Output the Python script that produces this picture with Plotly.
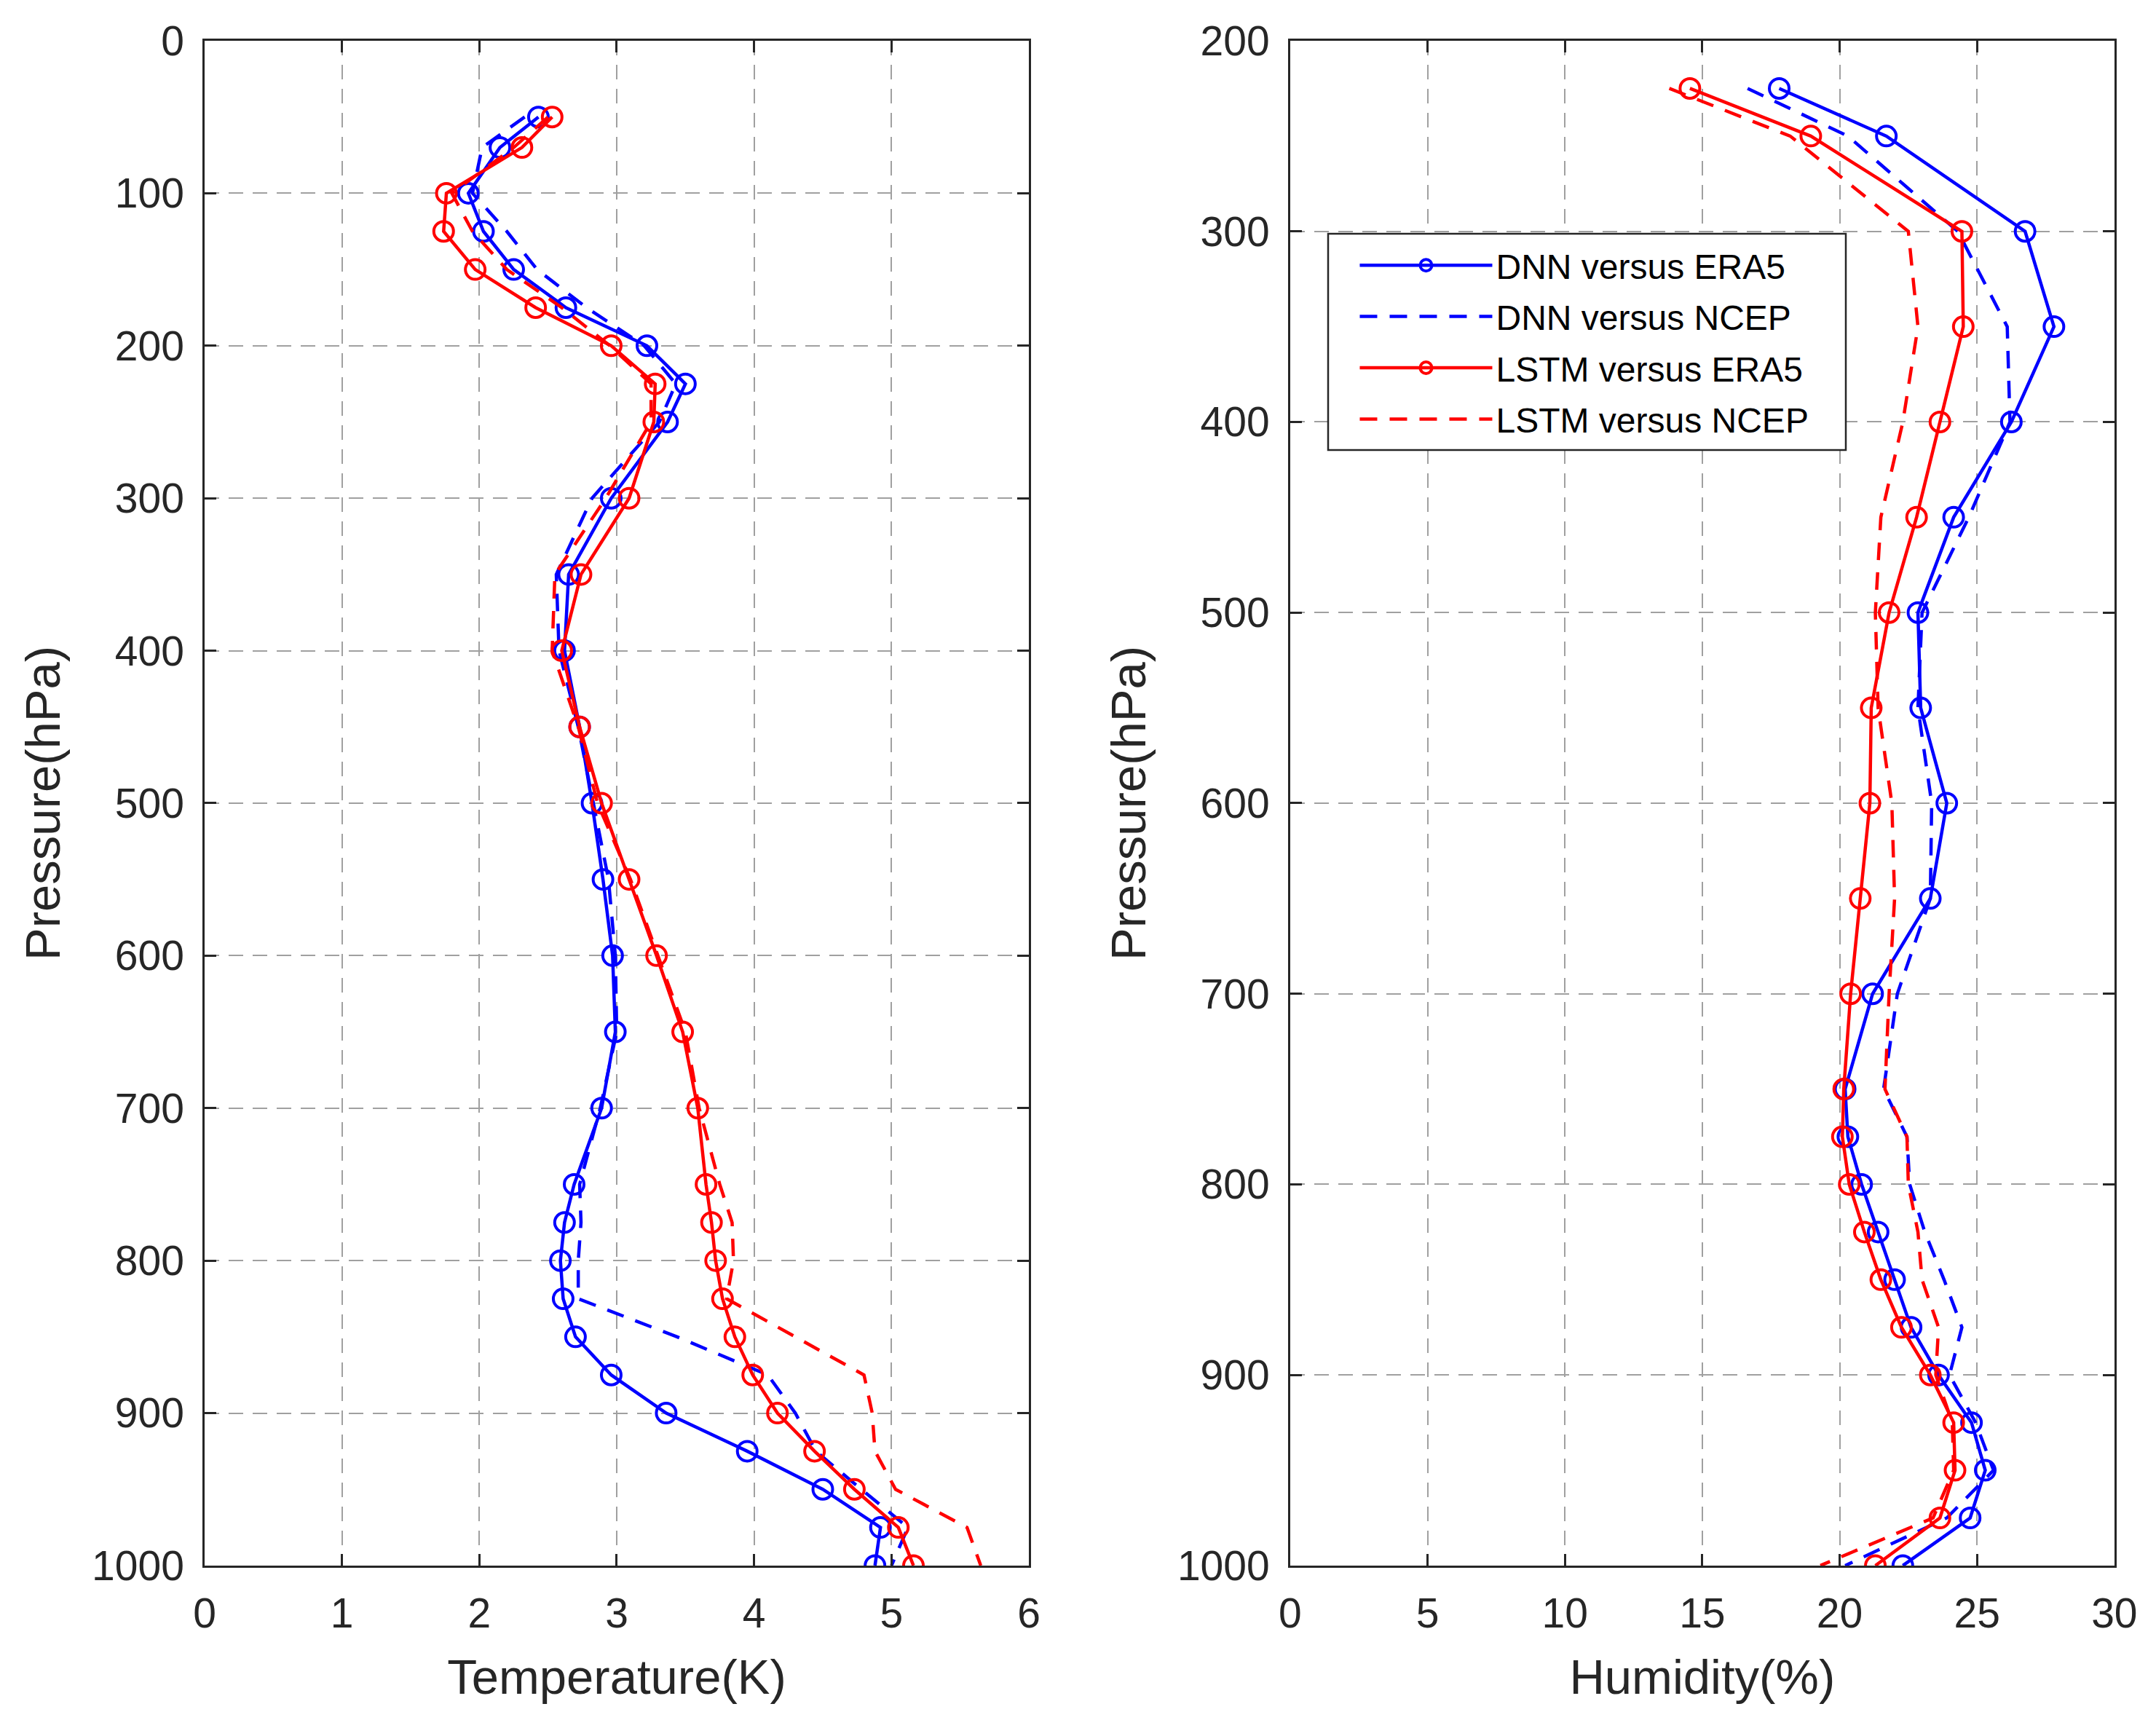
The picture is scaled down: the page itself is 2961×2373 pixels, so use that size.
import plotly.graph_objects as go

# --- temperature panel: RMSE (K) against pressure level (hPa) ---
temp_levels = [50, 70, 100, 125, 150, 175, 200, 225, 250, 300, 350, 400, 450, 500,
               550, 600, 650, 700, 750, 775, 800, 825, 850, 875, 900, 925, 950, 975, 1000]
dnn_era5_temp = [2.43, 2.15, 1.92, 2.03, 2.25, 2.63, 3.22, 3.50, 3.37, 2.96, 2.65, 2.62, 2.73, 2.82,
                 2.90, 2.97, 2.99, 2.89, 2.69, 2.62, 2.59, 2.61, 2.70, 2.96, 3.36, 3.95, 4.50, 4.92, 4.88]
dnn_ncep_temp = [2.33, 2.02, 1.95, 2.20, 2.42, 2.78, 3.20, 3.43, 3.31, 2.82, 2.56, 2.58, 2.72, 2.83,
                 2.94, 2.99, 3.00, 2.88, 2.73, 2.74, 2.72, 2.72, 3.44, 4.10, 4.30, 4.45, 4.78, 5.12, 5.00]
lstm_era5_temp = [2.53, 2.31, 1.76, 1.74, 1.97, 2.41, 2.96, 3.28, 3.27, 3.09, 2.74, 2.60, 2.73, 2.89,
                  3.09, 3.29, 3.48, 3.59, 3.65, 3.69, 3.72, 3.77, 3.86, 3.99, 4.17, 4.44, 4.73, 5.05, 5.16]
lstm_ncep_temp = [2.50, 2.25, 1.80, 1.95, 2.20, 2.60, 2.95, 3.25, 3.25, 2.92, 2.55, 2.53, 2.72, 2.86,
                  3.10, 3.30, 3.50, 3.60, 3.75, 3.84, 3.85, 3.80, 4.30, 4.80, 4.86, 4.88, 5.03, 5.55, 5.65]

# --- humidity panel: RMSE (%) against pressure level (hPa) ---
hum_levels = [225, 250, 300, 350, 400, 450, 500, 550, 600, 650, 700,
              750, 775, 800, 825, 850, 875, 900, 925, 950, 975, 1000]
dnn_era5_hum = [17.8, 21.7, 26.75, 27.8, 26.25, 24.15, 22.85, 22.95, 23.9, 23.3, 21.2,
                20.2, 20.3, 20.8, 21.4, 22.0, 22.6, 23.6, 24.8, 25.3, 24.75, 22.3]
dnn_ncep_hum = [16.65, 20.3, 24.3, 26.1, 26.2, 24.7, 23.0, 22.85, 23.35, 23.3, 22.1,
                21.6, 22.45, 22.55, 23.1, 23.8, 24.45, 24.0, 24.95, 25.6, 23.9, 20.2]
lstm_era5_hum = [14.55, 18.95, 24.45, 24.5, 23.65, 22.8, 21.8, 21.15, 21.1, 20.75, 20.4,
                 20.15, 20.1, 20.35, 20.9, 21.5, 22.25, 23.3, 24.15, 24.2, 23.65, 21.3]
lstm_ncep_hum = [13.8, 18.2, 22.5, 22.85, 22.3, 21.5, 21.3, 21.4, 21.9, 22.0, 21.8,
                 21.65, 22.45, 22.5, 22.85, 23.0, 23.6, 23.5, 24.1, 24.15, 23.4, 19.3]

series_names = ["DNN versus ERA5", "DNN versus NCEP", "LSTM versus ERA5", "LSTM versus NCEP"]
temp_series = [dnn_era5_temp, dnn_ncep_temp, lstm_era5_temp, lstm_ncep_temp]
hum_series = [dnn_era5_hum, dnn_ncep_hum, lstm_era5_hum, lstm_ncep_hum]
colors = ["#0000ff", "#0000ff", "#ff0000", "#ff0000"]
dashed = [False, True, False, True]

FONT = "Liberation Sans, Arial, sans-serif"
DASH = "24px,17px"

fig = go.Figure()
for name, tvals, hvals, col, is_dash in zip(series_names, temp_series, hum_series, colors, dashed):
    line = dict(color=col, width=4.5, dash=DASH if is_dash else "solid")
    mode = "lines" if is_dash else "lines+markers"
    marker = dict(symbol="circle-open", size=27, color=col, line=dict(width=4, color=col))
    fig.add_trace(go.Scatter(x=tvals, y=temp_levels, mode=mode, line=line, marker=marker,
                             name=name, legendgroup=name, showlegend=False,
                             xaxis="x", yaxis="y"))
    fig.add_trace(go.Scatter(x=hvals, y=hum_levels, mode=mode, line=line, marker=marker,
                             name=name, legendgroup=name, showlegend=True,
                             xaxis="x2", yaxis="y2"))

axis_style = dict(
    showline=True, mirror="ticks", linecolor="#262626", linewidth=2.5,
    ticks="inside", ticklen=16, tickwidth=2.5, tickcolor="#262626",
    showgrid=True, gridcolor="#a0a0a0", gridwidth=2, griddash="20px,13px",
    zeroline=False, automargin=False, ticklabelstandoff=14,
    tickfont=dict(family=FONT, size=57, color="#262626"),
)
title_font = dict(family=FONT, size=67, color="#262626")

fig.update_layout(
    width=2961, height=2373,
    margin=dict(l=0, r=0, t=0, b=0),
    paper_bgcolor="white", plot_bgcolor="white",
    xaxis=dict(domain=[0.0949, 0.4772], range=[0, 6], dtick=1, anchor="y",
               title=dict(text="Temperature(K)", font=title_font, standoff=34), **axis_style),
    yaxis=dict(domain=[0.094, 0.9764], range=[1000, 0], dtick=100, anchor="x",
               title=dict(text="Pressure(hPa)", font=title_font, standoff=22), **axis_style),
    xaxis2=dict(domain=[0.5984, 0.9807], range=[0, 30], dtick=5, anchor="y2",
                title=dict(text="Humidity(%)", font=title_font, standoff=34), **axis_style),
    yaxis2=dict(domain=[0.094, 0.9764], range=[1000, 200], dtick=100, anchor="x2",
                title=dict(text="Pressure(hPa)", font=title_font, standoff=22), **axis_style),
    legend=dict(
        x=0.629, y=0.8624, xanchor="left", yanchor="top",
        bgcolor="rgba(0,0,0,0)", borderwidth=0,
        font=dict(family=FONT, size=48, color="black"),
        itemwidth=182, tracegroupgap=5,
    ),
)

# legend frame, drawn as a white box behind the legend entries
fig.add_shape(type="rect", xref="paper", yref="paper",
              x0=1824 / 2961, x1=2535 / 2961, y0=1 - 618 / 2373, y1=1 - 321 / 2373,
              fillcolor="white", line=dict(color="#262626", width=2.5), layer="above")

# drop the browser's default body margin so the figure sits at the page origin
fig.write_html("out.html", config={"displayModeBar": False},
               post_script="document.body.style.margin='0';")
